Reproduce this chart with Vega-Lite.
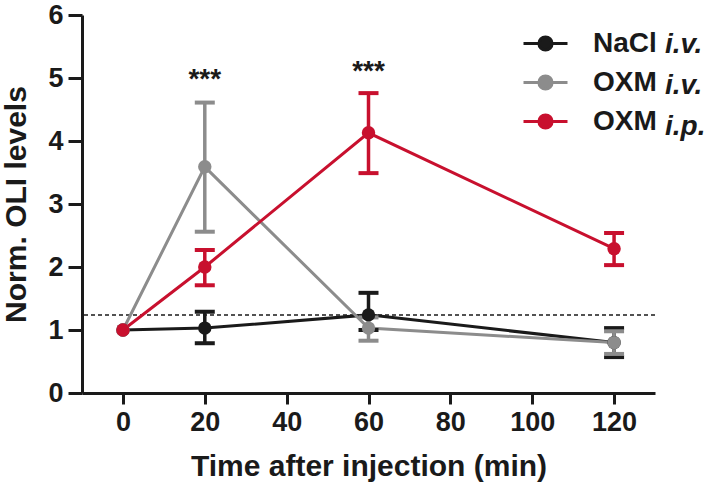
{
  "$schema": "https://vega.github.io/schema/vega-lite/v6.json",
  "width": 573,
  "height": 378,
  "autosize": {"type": "none"},
  "padding": {"left": 82, "top": 15, "right": 57, "bottom": 95},
  "background": "white",
  "config": {
    "view": {"stroke": null},
    "font": "Liberation Sans",
    "axis": {
      "grid": false,
      "domainColor": "#1a1a1a",
      "domainWidth": 3,
      "tickColor": "#1a1a1a",
      "tickWidth": 3,
      "labelColor": "#1a1a1a",
      "labelFont": "Liberation Sans",
      "labelFontWeight": "bold",
      "labelFontSize": 27,
      "titleColor": "#1a1a1a",
      "titleFont": "Liberation Sans",
      "titleFontWeight": "bold",
      "titleFontSize": 30
    },
    "legend": {
      "labelFont": "Liberation Sans",
      "labelFontWeight": "bold",
      "labelFontSize": 28,
      "labelColor": "#1a1a1a",
      "padding": 0
    }
  },
  "data": {
    "values": [
      {"series": "NaCl i.v.", "time": 0, "mean": 1.0},
      {"series": "NaCl i.v.", "time": 20, "mean": 1.03, "lo": 0.79, "hi": 1.29},
      {"series": "NaCl i.v.", "time": 60, "mean": 1.24, "lo": 1.0, "hi": 1.59},
      {"series": "NaCl i.v.", "time": 120, "mean": 0.8, "lo": 0.57, "hi": 1.03},
      {"series": "OXM i.v.", "time": 0, "mean": 1.0},
      {"series": "OXM i.v.", "time": 20, "mean": 3.59, "lo": 2.56, "hi": 4.61},
      {"series": "OXM i.v.", "time": 60, "mean": 1.03, "lo": 0.83, "hi": 1.2},
      {"series": "OXM i.v.", "time": 120, "mean": 0.8, "lo": 0.62, "hi": 0.98},
      {"series": "OXM i.p.", "time": 0, "mean": 1.0},
      {"series": "OXM i.p.", "time": 20, "mean": 2.0, "lo": 1.71, "hi": 2.27},
      {"series": "OXM i.p.", "time": 60, "mean": 4.13, "lo": 3.49, "hi": 4.76},
      {"series": "OXM i.p.", "time": 120, "mean": 2.29, "lo": 2.03, "hi": 2.54}
    ]
  },
  "layer": [
    {
      "data": {"values": [{"level": 1.24}]},
      "mark": {"type": "rule", "color": "#1a1a1a", "strokeWidth": 1.5, "strokeDash": [4, 3]},
      "encoding": {"y": {"field": "level", "type": "quantitative"}}
    },
    {
      "mark": {"type": "line", "strokeWidth": 3},
      "encoding": {
        "x": {
          "field": "time", "type": "quantitative",
          "scale": {"domain": [-10, 130], "nice": false},
          "axis": {"values": [0, 20, 40, 60, 80, 100, 120], "format": "d", "tickSize": 11, "labelPadding": 5, "title": "Time after injection (min)", "titlePadding": 16}
        },
        "y": {
          "field": "mean", "type": "quantitative",
          "scale": {"domain": [0, 6], "nice": false},
          "axis": {"values": [0, 1, 2, 3, 4, 5, 6], "format": "d", "tickSize": 14, "labelPadding": 5, "title": "Norm. OLI levels", "titlePadding": 16}
        },
        "color": {
          "field": "series", "type": "nominal",
          "sort": ["NaCl i.v.", "OXM i.v.", "OXM i.p."],
          "scale": {"range": ["#1a1a1a", "#8c8c8c", "#c8102e"]},
          "legend": {
            "title": null,
            "orient": "none",
            "legendX": 440,
            "legendY": 5,
            "rowPadding": 1,
            "labelExpr": "split(datum.label, ' ')[0]",
            "labelOffset": 24,
            "symbolType": "M-1,0H1M-0.3,0A0.3,0.3 0 1,1 0.3,0A0.3,0.3 0 1,1 -0.3,0Z",
            "symbolSize": 1936,
            "symbolStrokeWidth": 3,
            "encode": {
              "symbols": {
                "update": {
                  "fill": {"scale": "color", "field": "value"},
                  "stroke": {"scale": "color", "field": "value"},
                  "strokeWidth": {"value": 3},
                  "opacity": {"value": 1}
                }
              }
            }
          }
        }
      }
    },
    {
      "transform": [{"filter": "isValid(datum.lo)"}],
      "mark": {"type": "rule", "strokeWidth": 3.5},
      "encoding": {
        "x": {"field": "time", "type": "quantitative"},
        "y": {"field": "lo", "type": "quantitative"},
        "y2": {"field": "hi"},
        "color": {"field": "series", "type": "nominal", "sort": ["NaCl i.v.", "OXM i.v.", "OXM i.p."]}
      }
    },
    {
      "transform": [{"filter": "isValid(datum.lo)"}],
      "mark": {"type": "tick", "orient": "horizontal", "size": 20, "thickness": 4, "opacity": 1},
      "encoding": {
        "x": {"field": "time", "type": "quantitative"},
        "y": {"field": "lo", "type": "quantitative"},
        "color": {"field": "series", "type": "nominal", "sort": ["NaCl i.v.", "OXM i.v.", "OXM i.p."]}
      }
    },
    {
      "transform": [{"filter": "isValid(datum.hi)"}],
      "mark": {"type": "tick", "orient": "horizontal", "size": 20, "thickness": 4, "opacity": 1},
      "encoding": {
        "x": {"field": "time", "type": "quantitative"},
        "y": {"field": "hi", "type": "quantitative"},
        "color": {"field": "series", "type": "nominal", "sort": ["NaCl i.v.", "OXM i.v.", "OXM i.p."]}
      }
    },
    {
      "mark": {"type": "point", "filled": true, "size": 180, "shape": "circle"},
      "encoding": {
        "x": {"field": "time", "type": "quantitative"},
        "y": {"field": "mean", "type": "quantitative"},
        "color": {"field": "series", "type": "nominal", "sort": ["NaCl i.v.", "OXM i.v.", "OXM i.p."]},
        "opacity": {
          "field": "series", "type": "nominal",
          "scale": {"domain": ["NaCl i.v.", "OXM i.v.", "OXM i.p."], "range": [1, 1]},
          "legend": {
            "title": null,
            "orient": "none",
            "legendX": 555,
            "legendY": 16,
            "rowPadding": 13,
            "labelExpr": "split(datum.label, ' ')[1]",
            "labelFontStyle": "italic",
            "labelOffset": 0,
            "symbolType": "circle",
            "symbolSize": 1,
            "encode": {"symbols": {"update": {"opacity": {"value": 0}}}}
          }
        }
      }
    },
    {
      "data": {"values": [{"time": 20, "level": 4.84, "label": "***"}, {"time": 60, "level": 4.97, "label": "***"}]},
      "mark": {"type": "text", "fontSize": 28, "fontWeight": "bold", "font": "Liberation Sans", "color": "#1a1a1a", "baseline": "alphabetic", "align": "center"},
      "encoding": {
        "x": {"field": "time", "type": "quantitative"},
        "y": {"field": "level", "type": "quantitative"},
        "text": {"field": "label"}
      }
    }
  ]
}
